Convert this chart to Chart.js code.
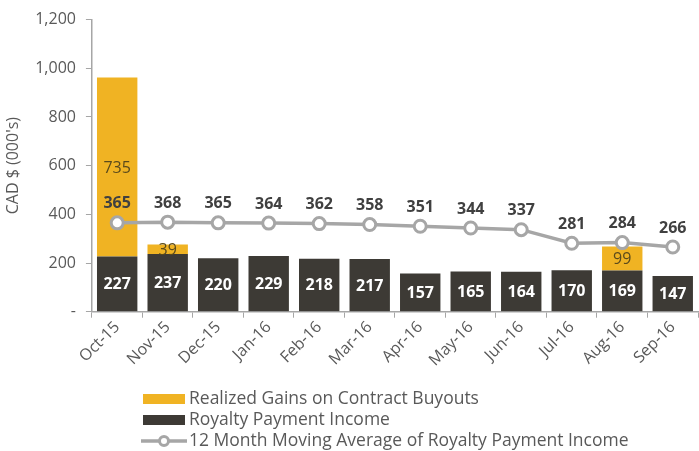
<!DOCTYPE html>
<html>
<head>
<meta charset="utf-8">
<script src="https://cdn.jsdelivr.net/npm/chart.js@4"></script>
<style>
  html, body { margin: 0; padding: 0; background: #fff; overflow: hidden; }
  #wrap { position: relative; width: 699px; height: 451px; overflow: hidden; }
</style>
</head>
<body>
<div id="wrap"><canvas id="c" width="707" height="451"></canvas></div>
<script>
(function () {
  "use strict";

  // ---- data ----
  var months = ["Oct-15", "Nov-15", "Dec-15", "Jan-16", "Feb-16", "Mar-16",
                "Apr-16", "May-16", "Jun-16", "Jul-16", "Aug-16", "Sep-16"];
  var royalty = [227, 237, 220, 229, 218, 217, 157, 165, 164, 170, 169, 147];
  var buyouts = [735, 39, null, null, null, null, null, null, null, null, 99, null];
  var movingAvg = [365, 368, 365, 364, 362, 358, 351, 344, 337, 281, 284, 266];
  var yTicks = [0, 200, 400, 600, 800, 1000, 1200];

  var YELLOW = "#f0b323";
  var DARK = "#3d3a35";
  var LINE = "#a6a6a6";
  var TEXT = "#595959";
  var FONT = "'Open Sans', 'Noto Sans', sans-serif";

  Chart.defaults.font.family = FONT;
  Chart.defaults.color = TEXT;

  /* ---- value labels: inside bars, above line points ---- */
  var valueLabels = {
    id: "valueLabels",
    afterDatasetsDraw: function (chart) {
      var ctx = chart.ctx;
      ctx.save();
      ctx.textAlign = "center";
      ctx.textBaseline = "middle";
      chart.data.datasets.forEach(function (ds, di) {
        var meta = chart.getDatasetMeta(di);
        meta.data.forEach(function (el, i) {
          var v = ds.data[i];
          if (v == null) return;
          if (ds.type === "line") {
            ctx.font = "bold 16px " + FONT;
            ctx.fillStyle = "#404040";
            ctx.fillText(String(v), el.x, el.y - 19);
          } else {
            var mid = (el.y + el.base) / 2;
            if (ds.label === "Royalty Payment Income") {
              ctx.font = "bold 16px " + FONT;
              ctx.fillStyle = "#ffffff";
            } else {
              ctx.font = "16px " + FONT;
              ctx.fillStyle = "#5a4a1c";
            }
            ctx.fillText(String(v), el.x, mid + 1);
          }
        });
      });
      ctx.restore();
    }
  };

  /* ---- vertical legend under the chart ---- */
  var bottomLegend = {
    id: "bottomLegend",
    afterDraw: function (chart) {
      var ctx = chart.ctx;
      var x0 = 143, rows = [399, 420, 441];
      var order = [1, 0, 2]; // yellow, dark, line
      ctx.save();
      ctx.font = "17.5px " + FONT;
      ctx.textBaseline = "middle";
      ctx.textAlign = "left";
      order.forEach(function (di, r) {
        var ds = chart.data.datasets[di];
        var y = rows[r];
        if (ds.type === "line") {
          ctx.strokeStyle = LINE;
          ctx.lineWidth = 3.5;
          ctx.beginPath();
          ctx.moveTo(x0 - 2, y);
          ctx.lineTo(x0 + 44, y);
          ctx.stroke();
          ctx.beginPath();
          ctx.arc(x0 + 21, y, 4.5, 0, Math.PI * 2);
          ctx.fillStyle = "#fff";
          ctx.fill();
          ctx.lineWidth = 3;
          ctx.stroke();
        } else {
          ctx.fillStyle = ds.backgroundColor;
          ctx.fillRect(x0, y - 5, 42, 10);
        }
        ctx.fillStyle = TEXT;
        ctx.fillText(ds.label, x0 + 46, y);
      });
      ctx.restore();
    }
  };

  new Chart(document.getElementById("c").getContext("2d"), {
    data: {
      labels: months,
      datasets: [
        { type: "bar", label: "Royalty Payment Income", data: royalty,
          backgroundColor: DARK, stack: "s", order: 2,
          barPercentage: 0.8, categoryPercentage: 1 },
        { type: "bar", label: "Realized Gains on Contract Buyouts", data: buyouts,
          backgroundColor: YELLOW, stack: "s", order: 2,
          barPercentage: 0.8, categoryPercentage: 1 },
        { type: "line", label: "12 Month Moving Average of Royalty Payment Income", data: movingAvg,
          borderColor: LINE, borderWidth: 3.5, pointRadius: 6, pointBorderWidth: 3,
          pointBackgroundColor: "#ffffff", pointBorderColor: LINE, tension: 0, order: 1 }
      ]
    },
    options: {
      responsive: false,
      animation: false,
      events: [],
      layout: { padding: { top: 9, right: 0, bottom: 81, left: 4 } },
      plugins: { legend: { display: false }, tooltip: { enabled: false } },
      scales: {
        x: {
          stacked: true,
          grid: { display: true, drawOnChartArea: false, offset: true, color: LINE, tickLength: 6 },
          border: { color: LINE, width: 1.5 },
          ticks: { font: { size: 16 }, color: TEXT, minRotation: 45, maxRotation: 45, padding: 0 }
        },
        y: {
          stacked: true,
          min: 0, max: 1200,
          afterBuildTicks: function (s) { s.ticks = yTicks.map(function (v) { return { value: v }; }); },
          grid: { display: true, drawOnChartArea: false, color: LINE, tickLength: 6 },
          border: { color: LINE, width: 1.5 },
          title: { display: true, text: "CAD $ (000's)", font: { size: 16 }, color: TEXT, padding: { top: 0, bottom: 2 } },
          ticks: {
            font: { size: 16 }, color: TEXT, padding: 10,
            callback: function (v) { return v === 0 ? "-" : v.toLocaleString("en-US"); }
          }
        }
      }
    },
    plugins: [valueLabels, bottomLegend]
  });
})();
</script>
</body>
</html>
